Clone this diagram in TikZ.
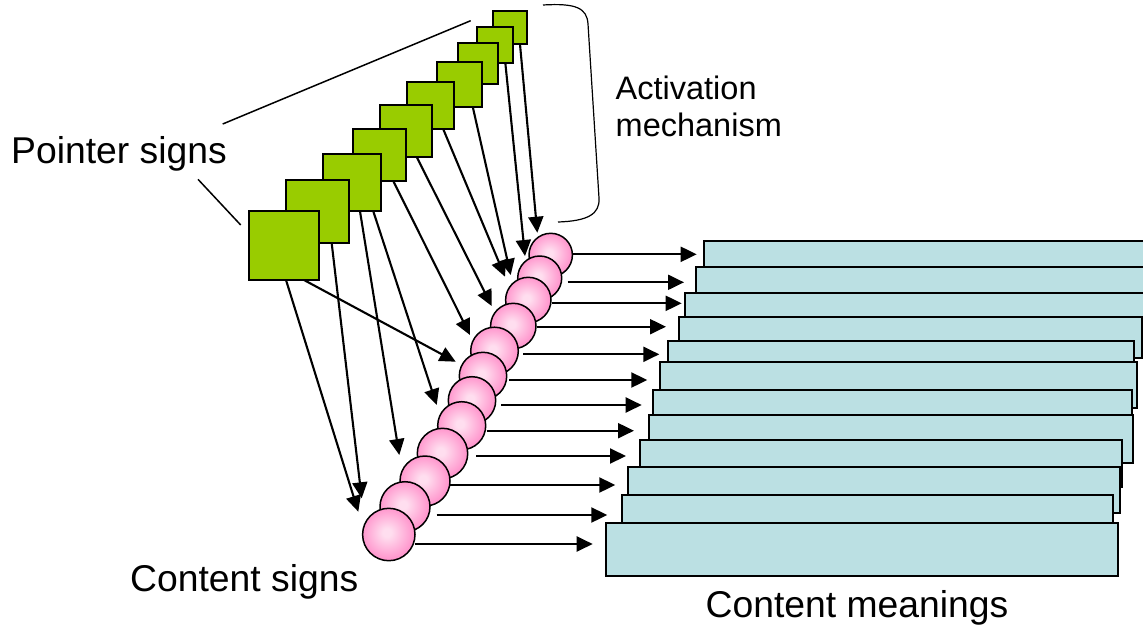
\documentclass[tikz,border=0pt]{standalone}
\usepackage{fontspec}
\setmainfont{Liberation Sans}
\usetikzlibrary{arrows.meta,calc}

\definecolor{leafgreen}{RGB}{153,204,0}
\definecolor{paleteal}{RGB}{187,224,227}
\definecolor{pinkin}{RGB}{255,222,239}
\definecolor{pinkout}{RGB}{255,148,204}
% the central 50bp square of a shading covers the bead, so 25bp is its rim
\pgfdeclareradialshading{pinkball}{\pgfpoint{-2bp}{2bp}}%
  {color(0bp)=(pinkin); color(4bp)=(pinkin); color(25bp)=(pinkout); color(50bp)=(pinkout)}

\tikzset{
  sq/.style={draw=black, line width=1.9pt, fill=leafgreen, rectangle,
             inner sep=0pt, outer sep=0pt, anchor=north west},
  card/.style={draw=black, line width=1.9pt, fill=paleteal, rectangle,
               inner sep=0pt, outer sep=0pt, anchor=north west},
  bead/.style={draw=black, line width=1.5pt, circle, inner sep=0pt,
               outer sep=0pt, shade, shading=pinkball},
  arr/.style={line width=2.1pt, -{Triangle[length=16pt,width=15pt]}},
  lead/.style={line width=1.5pt},
  lbl/.style={inner sep=0pt, anchor=base west,
              font=\fontsize{37.3}{43}\selectfont},
}

\begin{document}
\begin{tikzpicture}[x=1pt, y=-1pt]
\clip (0,0) rectangle (1143,625);

% content meanings: stacked cards, back to front
\node[card, minimum width=446pt,   minimum height=39pt]   (r1)  at (704,241)   {};
\node[card, minimum width=454pt,   minimum height=39pt]   (r2)  at (696,267.3) {};
\node[card, minimum width=465pt,   minimum height=40pt]   (r3)  at (685,293.3) {};
\node[card, minimum width=463pt,   minimum height=41pt]   (r4)  at (679.3,316.7) {};
\node[card, minimum width=466pt,   minimum height=40pt]   (r5)  at (668.3,340.7) {};
\node[card, minimum width=476.7pt, minimum height=46pt]   (r6)  at (660,362.3) {};
\node[card, minimum width=479pt,   minimum height=40pt]   (r7)  at (653.3,390) {};
\node[card, minimum width=484.6pt, minimum height=47.7pt] (r8)  at (648.7,415) {};
\node[card, minimum width=482.3pt, minimum height=47.3pt] (r9)  at (640,440) {};
\node[card, minimum width=492.3pt, minimum height=46.6pt] (r10) at (627.7,466.7) {};
\node[card, minimum width=491.3pt, minimum height=45pt]   (r11) at (622,495) {};
\node[card, minimum width=511.7pt, minimum height=52.4pt] (r12) at (606,523.3) {};

% content signs: chain of beads, upper ones first
\foreach \i/\cx/\cy/\d in {1/550.7/255/43.4, 2/539.7/278/44, 3/528.3/300/45.4,
    4/513.3/326/45.4, 5/494.5/351/47.6, 6/483/376/47.4, 7/472/400.4/47.4,
    8/461.7/425.7/48, 9/442.5/453.5/50.4, 10/425/481/50, 11/405/506.7/50,
    12/388.8/534.5/52.4}
  \node[bead, minimum size=\d pt] (c\i) at (\cx,\cy) {};

% bead -> card arrows (row height, gap after bead, gap before card)
\foreach \i/\ay/\g/\h in {1/254.3/0.9/7.3, 2/282.3/6/12, 3/303.3/1.3/3.3,
    4/326.7/0.7/13.3, 5/354.3/5/9, 6/380/2.6/12.7, 7/405/5.3/11.6,
    8/430.7/1/14.7, 9/456/8.3/14, 10/485/0/12.4, 11/515/6.7/14.7, 12/544/0/13.3}
  \draw[arr] ($(c\i.east |- 0,\ay)+(\g,0)$) -- ($(r\i.west |- 0,\ay)+(-\h,0)$);

% pointer signs: stacked squares, back to front
\node[sq, minimum size=33.3pt] (p1)  at (493.3,11)    {};
\node[sq, minimum size=36pt]   (p2)  at (476.7,26.7)  {};
\node[sq, minimum size=40.6pt] (p3)  at (457.7,43.3)  {};
\node[sq, minimum size=44.3pt] (p4)  at (437.3,62.3)  {};
\node[sq, minimum size=47.3pt] (p5)  at (406.7,82)    {};
\node[sq, minimum size=51.7pt] (p6)  at (380,105.3)   {};
\node[sq, minimum size=52.3pt] (p7)  at (353.3,128.7) {};
\node[sq, minimum size=57.3pt] (p8)  at (323.3,154)   {};
\node[sq, minimum size=63.3pt] (p9)  at (286,180)     {};
\node[sq, minimum size=69.3pt] (p10) at (249.3,210.7) {};

% square -> bead arrows (source, offset along bottom edge, target, tip offset)
\foreach \s/\xs/\t/\dx/\dy in {1/26.7/1/-13.4/-22.3, 2/28.6/2/-14.7/-22,
    4/35.4/3/-17.6/-25, 5/36.6/3/-23.3/-23.3, 6/36.7/4/-21.6/-20,
    7/40/5/-24.5/-16, 10/54.7/6/-27.3/-14.3, 8/50/8/-25/-20.7,
    8/36.7/10/-25.7/-26, 9/45.7/11/-43.3/-8.4, 10/36.7/12/-30.5/-22.8}
  \draw[arr] ($(p\s.south west)+(\xs,0)$) -- ($(c\t.center)+(\dx,\dy)$);

% labels
\node[lbl] (ptr)   at (11,163.3)    {Pointer signs};
\node[lbl] (csign) at (130,591.7)   {Content signs};
\node[lbl] (cmean) at (705.5,617.3) {Content meanings};
\node[inner sep=0pt, anchor=base west, align=left,
      font=\fontsize{32.5}{37.4}\selectfont] (act) at (615.5,136.7)
      {Activation\\mechanism};

% leader lines from the pointer label to the stack
\coordinate (ptrtop) at (222.7,124);
\coordinate (ptrbot) at (198,179.3);
\draw[lead] (ptrtop) -- ([shift={(-6,-6)}]p2.north west);
\draw[lead] (ptrbot) -- ([shift={(-8.6,14.3)}]p10.north west);

% bracket around the activation paths
\draw[line width=1.2pt] (543,5) .. controls (576,3) and (587,8) .. (588,24)
  -- (599,198) .. controls (600,214) and (588,221) .. (558,222);
\end{tikzpicture}
\end{document}
